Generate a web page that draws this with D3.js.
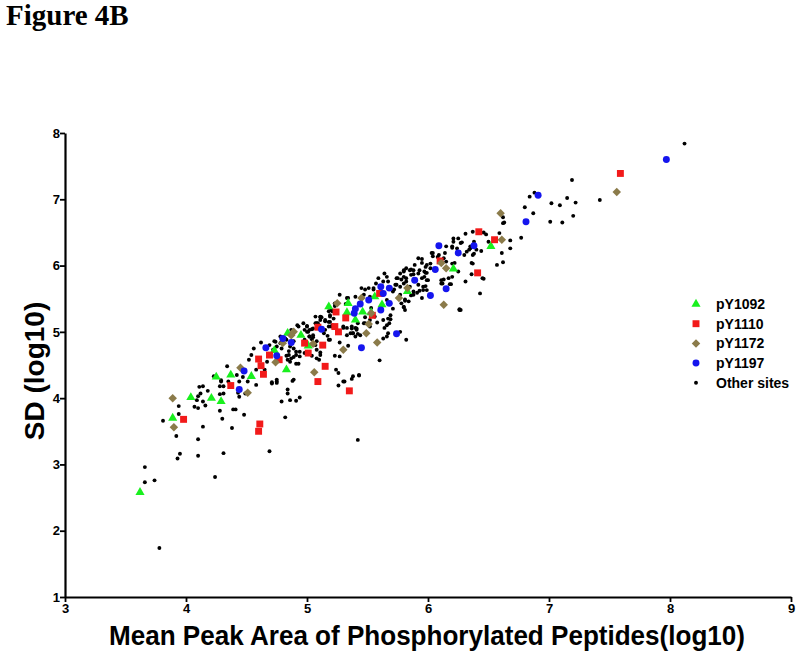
<!DOCTYPE html>
<html>
<head>
<meta charset="utf-8">
<script src="https://cdn.jsdelivr.net/npm/d3@7"></script>
<style>
  body { margin: 0; background: #fff; }
  svg { display: block; }
</style>
</head>
<body>
<div id="chart"></div>
<script>
// values: [mean peak area (log10), SD (log10)]
const pY1092 = [
  [3.62,2.58],[3.89,3.70],[4.04,4.01],[4.21,4.00],[4.29,3.95],[4.25,4.32],[4.37,4.35],[4.54,4.33],
  [4.83,4.43],[4.84,4.98],[4.95,4.95],[5.01,4.79],[4.73,4.72],[5.18,5.38],[5.33,5.29],[5.40,5.18],
  [5.46,5.30],[5.34,5.43],[5.53,5.29],[5.62,5.41],[5.56,5.53],[6.21,5.95],[6.52,6.29],[5.83,5.61]
];
const pY1110 = [
  [3.98,3.68],[4.37,4.19],[4.61,3.61],[4.60,3.50],[5.09,4.25],[5.35,4.11],[4.60,4.59],[4.62,4.49],
  [4.64,4.36],[4.69,4.65],[4.77,4.58],[4.98,4.83],[5.13,4.80],[5.15,4.48],[5.24,5.30],[5.32,5.21],
  [5.23,5.08],[5.26,5.00],[5.54,5.25],[5.09,5.07],[5.01,4.68],[5.60,5.58],[6.10,6.07],[6.55,6.39],
  [6.42,6.51],[6.41,5.89],[7.59,7.39]
];
const pY1172 = [
  [3.89,4.00],[3.90,3.56],[4.51,4.08],[4.45,4.46],[4.74,4.54],[4.89,5.00],[4.87,4.95],[4.80,4.83],
  [5.05,4.82],[5.06,4.39],[5.30,4.73],[5.49,4.98],[5.51,5.12],[5.58,4.84],[5.25,5.43],[5.53,5.28],
  [5.45,5.51],[5.76,5.51],[5.83,5.66],[6.13,5.41],[6.15,5.96],[6.11,6.04],[6.60,6.79],[6.61,6.39],
  [7.56,7.11]
];
const pY1197 = [
  [4.44,4.13],[4.48,4.41],[4.66,4.76],[4.75,4.64],[4.80,4.90],[4.87,4.84],[5.12,5.04],[5.45,4.76],
  [5.39,5.28],[5.40,5.35],[5.44,5.42],[5.51,5.48],[5.61,5.33],[5.68,5.43],[5.61,5.68],[5.68,5.66],
  [5.63,5.58],[5.89,5.78],[6.02,5.55],[6.15,5.65],[6.06,5.94],[6.25,6.19],[6.09,6.30],[6.38,6.30],
  [5.74,4.97],[6.91,7.06],[6.81,6.66],[7.97,7.60]
];
const otherSites = [
  [3.78,1.74],[3.66,2.96],[3.66,2.73],[3.74,2.76],[4.24,2.81],[3.81,3.66],[3.92,3.43],[3.95,3.16],
  [3.93,3.09],[4.10,3.13],[4.31,3.17],[4.10,3.38],[4.14,3.57],[4.38,3.55],[4.30,3.69],[4.28,3.81],
  [4.48,3.75],[3.94,3.76],[3.94,3.88],[4.09,3.97],[4.07,3.87],[4.10,3.85],[4.16,3.89],[4.14,3.95],
  [4.11,4.17],[4.14,4.18],[4.18,4.11],[4.12,4.07],[4.10,4.03],[4.28,4.18],[4.31,4.18],[4.28,4.06],
  [4.31,4.07],[4.29,4.25],[4.35,4.25],[4.39,3.83],[4.41,3.83],[4.44,4.02],[4.49,4.07],[4.51,4.25],
  [4.58,4.20],[4.69,3.20],[5.42,3.37],[4.82,3.71],[4.79,3.95],[4.86,3.97],[4.91,3.96],[4.94,4.01],
  [4.84,4.07],[4.84,4.13],[4.71,4.22],[4.75,4.25],[4.88,4.26],[5.26,4.19],[5.31,4.25],[4.23,4.33],
  [4.29,4.27],[4.34,4.48],[4.44,4.25],[4.47,4.32],[4.42,4.35],[4.43,4.08],[4.52,4.58],[4.56,4.75],
  [4.54,4.65],[4.67,4.55],[4.58,4.43],[4.65,4.43],[4.71,4.24],[4.75,4.28],[4.75,4.23],[4.89,4.28],
  [4.62,4.84],[4.69,4.80],[4.73,4.86],[4.78,4.83],[4.79,4.75],[4.83,4.64],[4.84,4.58],[4.91,4.52],
  [4.93,4.52],[4.89,4.62],[4.85,4.71],[4.78,4.93],[4.83,4.88],[4.89,4.86],[4.92,5.10],[5.00,5.09],
  [4.98,5.03],[5.01,5.00],[5.04,5.04],[5.05,4.95],[5.07,5.13],[5.09,5.13],[5.11,5.23],[5.15,5.16],
  [5.14,4.98],[5.17,4.94],[5.04,4.89],[5.08,4.86],[4.94,4.70],[4.98,4.68],[4.94,4.63],[5.04,4.64],
  [5.19,4.88],[5.27,4.84],[5.30,5.06],[5.33,4.95],[5.38,4.98],[5.40,5.06],[5.42,5.13],[5.48,5.22],
  [5.26,4.38],[5.30,4.25],[5.37,4.29],[5.43,4.35],
  [6.31,6.48],[6.37,6.51],[6.21,6.41],[6.28,6.35],[6.20,6.29],[6.15,6.29],[6.24,6.26],[6.35,6.26],
  [6.32,6.21],[6.40,6.24],[6.44,6.22],[6.30,6.16],[6.04,6.19],[6.08,6.13],[5.92,6.11],[5.89,6.01],
  [5.95,6.04],[5.98,5.98],[6.02,6.03],[6.15,6.06],[6.20,6.03],[6.20,5.83],[6.17,5.81],[6.11,5.78],
  [6.12,5.73],[6.36,6.04],[6.31,5.76],[6.45,5.81],[6.43,5.58],[6.27,5.33],[6.25,5.91],[5.88,5.93],
  [5.86,5.86],[5.82,5.81],[5.97,5.91],[5.99,5.78],[5.98,5.69],[5.92,5.71],[5.96,5.63],[5.91,5.59],
  [5.85,5.68],[5.77,5.88],[5.80,5.91],[5.75,5.81],[5.82,5.96],[5.74,5.71],[5.72,5.64],[5.77,5.68],
  [5.66,5.83],[5.67,5.76],[5.64,5.88],[5.59,5.81],[5.57,5.73],[5.55,5.66],[5.51,5.66],[5.48,5.64],
  [5.45,5.66],[5.40,5.53],[5.33,5.51],[5.27,5.56],[5.23,5.43],[5.20,5.33],[5.19,5.25],[5.22,5.20],
  [5.18,5.15],[5.20,5.08],[5.30,5.08],[5.33,5.06],[5.37,5.08],[5.36,4.98],[5.41,5.03],[5.44,4.95],
  [5.40,4.93],[5.48,5.13],[5.56,5.23],[5.63,5.18],[5.67,5.20],[5.71,5.35],[5.80,5.38],[5.84,5.46],
  [5.88,5.56],[5.68,5.13],[5.64,5.06],[5.66,4.93],[5.77,5.00],[5.82,4.88],[5.60,4.57],[5.38,4.33],
  [5.43,4.34],[5.24,4.43],[5.08,4.60],[5.11,4.69],[5.02,4.93],[5.00,5.08],[4.97,5.13],[5.11,5.18],
  [5.12,5.22],[5.07,5.23],[5.27,4.63],
  [7.19,7.29],[7.42,6.99],[8.12,7.84],[7.02,6.94],[7.09,6.91],[7.15,7.02],[7.22,6.95],[7.20,6.75],
  [7.11,6.65],[7.01,6.66],[6.88,7.10],[6.84,7.04],[6.80,6.88],[6.87,6.79],[6.77,6.42],[6.62,6.73],
  [6.63,6.65],[6.59,6.49],[6.68,6.38],[6.68,6.26],[6.61,6.19],[6.62,6.05],[6.57,6.01],[6.46,5.80],
  [6.48,6.47],[6.38,6.36],[6.38,6.18],[6.37,6.03],[6.36,5.87],[6.22,6.04],[5.95,6.10],[5.86,5.94],
  [5.80,5.83],[5.92,5.88],[5.99,5.89],[5.97,5.83],[6.13,5.79],[6.19,5.72],[6.26,5.33],[5.95,5.51],
  [5.86,5.55],[5.81,5.47],[5.80,5.37],
  [5.47,5.56],[5.34,5.51],[5.32,5.42],[5.23,5.39],[5.21,5.31],[5.18,5.31],[5.19,5.23],[5.11,5.22],
  [5.15,5.18],[5.19,5.15],[5.18,5.08],[5.21,5.10],[5.15,5.03],[5.08,5.13],[5.05,5.05],[5.02,5.03],
  [5.00,5.00],[5.02,4.93],[5.05,4.92],[4.98,4.88],[4.93,5.08],[4.87,5.03],[4.82,4.90],[4.79,4.85],
  [4.75,4.78],[4.74,4.85],[4.72,4.73],[4.86,4.78],[4.89,4.75],[4.91,4.70],[4.85,4.65],[4.87,4.60],
  [4.86,4.55],[4.91,4.65],[5.07,4.80],[5.08,4.73],[5.11,4.65],[5.10,4.58],[5.18,4.88],[5.40,5.18],
  [5.37,5.05],[5.41,5.05],[5.38,4.98],[5.42,4.97],[5.47,5.13],[5.52,5.18],[5.58,5.14],[5.69,5.25],
  [5.69,5.19],[5.66,5.10],[5.67,4.98],[5.63,4.90],[5.34,4.79],[5.23,4.64],[5.52,5.08],[5.78,5.43],
  [5.81,5.33],[5.66,5.48],[5.53,5.36],[5.55,5.64],[5.52,5.53],
  [6.62,6.64],[6.37,6.16],[6.34,6.24],[6.35,6.29],[6.46,6.50],[6.50,6.36],[6.25,6.41],[6.21,6.36],
  [6.27,6.34],[6.20,6.27],[6.14,6.19],[6.03,6.19],[6.04,6.14],[6.09,6.16],[6.13,6.11],[5.85,5.93],
  [5.93,5.93],[5.99,6.01],[6.02,5.96],[5.98,5.89],[5.88,5.87],[5.80,5.93],[5.74,5.81],[5.78,5.79],
  [5.82,5.76],[5.95,5.81],[6.00,5.78],[5.96,5.68],[5.99,5.63],[5.93,5.62],[5.88,5.61],[5.80,5.73],
  [5.73,5.71],[5.69,5.66],[5.63,5.76],[5.71,5.61],[5.77,5.56],[5.81,5.49],[6.11,5.73],[6.18,5.72],
  [6.26,5.34]
];
const xTicks = [3, 4, 5, 6, 7, 8, 9];
const yTicks = [1, 2, 3, 4, 5, 6, 7, 8];
const seriesNames = ['pY1092', 'pY1110', 'pY1172', 'pY1197', 'Other sites'];

const width = 800, height = 657;
const plot = { left: 65, right: 791, top: 133, bottom: 597 };

const svg = d3.select('#chart').append('svg')
  .attr('width', width)
  .attr('height', height);

const x = d3.scaleLinear().domain([3, 9]).range([plot.left, plot.right]);
const y = d3.scaleLinear().domain([1, 8]).range([plot.bottom, plot.top]);

const series = [
  { name: seriesNames[0], data: pY1092, color: '#19f01e', type: d3.symbolTriangle, size: 36, rot: 0 },
  { name: seriesNames[1], data: pY1110, color: '#f21a1a', type: d3.symbolSquare, size: 48, rot: 0 },
  { name: seriesNames[2], data: pY1172, color: '#8b7b4a', type: d3.symbolSquare, size: 36, rot: 45 },
  { name: seriesNames[3], data: pY1197, color: '#1515ee', type: d3.symbolCircle, size: 38, rot: 0 },
  { name: seriesNames[4], data: otherSites, color: '#000', type: d3.symbolCircle, size: 12, rot: 0 }
];

// title
svg.append('text')
  .attr('x', 6).attr('y', 25)
  .style('font-family', '"Liberation Serif", "Times New Roman", serif')
  .style('font-weight', 'bold')
  .style('font-size', '29px')
  .text('Figure 4B');

// black dots first, coloured markers on top
const drawOrder = [series[4], series[0], series[1], series[2], series[3]];
drawOrder.forEach(s => {
  svg.append('g').selectAll('path')
    .data(s.data)
    .join('path')
    .attr('d', d3.symbol().type(s.type).size(s.size))
    .attr('transform', d => `translate(${x(d[0])},${y(d[1])}) rotate(${s.rot})`)
    .attr('fill', s.color);
});

// axes
const tickFont = g => g.selectAll('text')
  .style('font-family', '"Liberation Sans", Arial, sans-serif')
  .style('font-weight', 'bold')
  .style('font-size', '13px')
  .attr('fill', '#000');

const xAxis = svg.append('g')
  .attr('transform', `translate(0,${plot.bottom})`)
  .call(d3.axisBottom(x).tickValues(xTicks).tickSize(5).tickSizeOuter(0).tickFormat(d3.format('d')))
  .call(tickFont);
xAxis.select('.domain').attr('stroke-width', 2.2);
xAxis.selectAll('.tick line').attr('stroke-width', 1.8);
xAxis.selectAll('.tick text').attr('y', 7);

const yAxis = svg.append('g')
  .attr('transform', `translate(${plot.left},0)`)
  .call(d3.axisLeft(y).tickValues(yTicks).tickSize(5).tickSizeOuter(0).tickFormat(d3.format('d')))
  .call(tickFont);
yAxis.select('.domain').attr('stroke-width', 2.2);
yAxis.selectAll('.tick line').attr('stroke-width', 1.8);
yAxis.selectAll('.tick text').attr('x', -5);

// axis titles
svg.append('text')
  .attr('x', 427).attr('y', 645)
  .attr('text-anchor', 'middle')
  .attr('textLength', 636)
  .attr('lengthAdjust', 'spacingAndGlyphs')
  .style('font-family', '"Liberation Sans", Arial, sans-serif')
  .style('font-weight', 'bold')
  .style('font-size', '28px')
  .text('Mean Peak Area of Phosphorylated Peptides(log10)');

svg.append('text')
  .attr('transform', `translate(44,${(plot.top + plot.bottom) / 2 + 6}) rotate(-90)`)
  .attr('text-anchor', 'middle')
  .style('font-family', '"Liberation Sans", Arial, sans-serif')
  .style('font-weight', 'bold')
  .style('font-size', '28px')
  .text('SD (log10)');

// legend
const legend = svg.append('g').attr('transform', 'translate(696,304)');
const rows = legend.selectAll('g')
  .data(series)
  .join('g')
  .attr('transform', (d, i) => `translate(0,${i * 19.7})`);
rows.append('path')
  .attr('d', d => d3.symbol().type(d.type).size(d.size)())
  .attr('transform', d => `rotate(${d.rot})`)
  .attr('fill', d => d.color);
rows.append('text')
  .attr('x', 20).attr('y', 5)
  .style('font-family', '"Liberation Sans", Arial, sans-serif')
  .style('font-weight', 'bold')
  .style('font-size', '14px')
  .text(d => d.name);
</script>
</body>
</html>
